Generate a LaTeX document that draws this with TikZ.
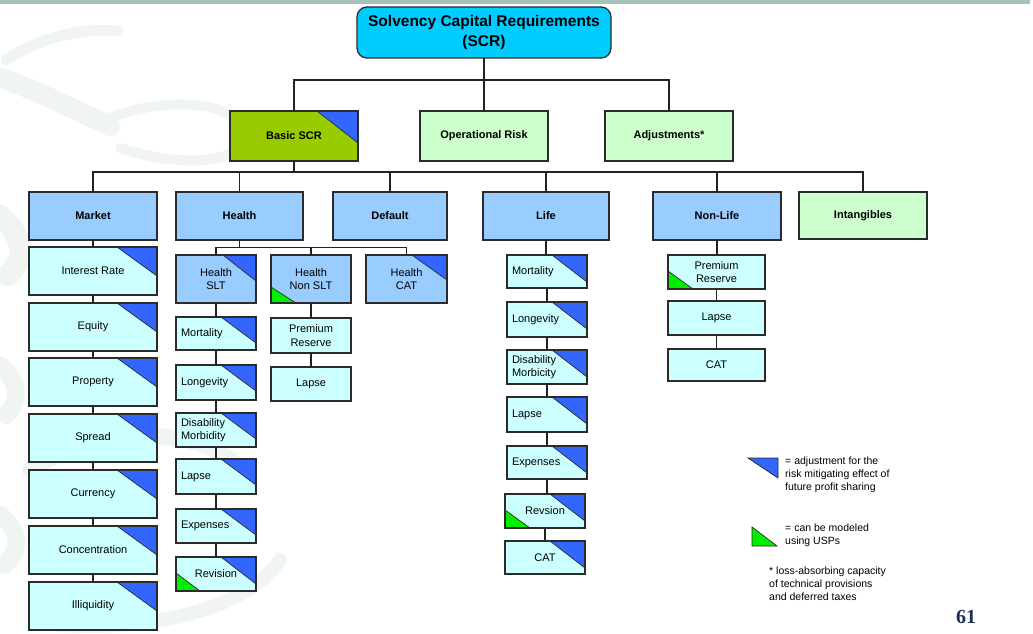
\documentclass[tikz,border=0pt]{standalone}
\usepackage{fontspec}
\setmainfont{Liberation Sans}
\newfontfamily\pagenumfont{Liberation Serif}

\definecolor{scrcyan}{HTML}{00CCFF}
\definecolor{basicolive}{HTML}{99CC00}
\definecolor{palegreen}{HTML}{CCFFCC}
\definecolor{groupblue}{HTML}{99CCFF}
\definecolor{leafcyan}{HTML}{CCFFFF}
\definecolor{adjblue}{HTML}{3366FF}
\definecolor{uspgreen}{HTML}{00EE00}
\definecolor{boxline}{HTML}{2B2B2B}
\definecolor{wirecol}{HTML}{222222}
\definecolor{swirlcol}{HTML}{F1F5F2}
\definecolor{bandcol}{HTML}{A9C2B9}
\definecolor{pagenum}{HTML}{1F2D5C}

% corner marks: blue = profit-sharing adjustment (top right), green = USPs (bottom left)
\newcommand\adjcorner[2]{%
  \filldraw[fill=adjblue, draw=boxline, line width=0.7pt]
    (path picture bounding box.north east) -- ++(-#1pt,0pt) -- ++(#1pt,-#2pt) -- cycle;}
\newcommand\uspcorner[2]{%
  \filldraw[fill=uspgreen, draw=boxline, line width=0.7pt]
    (path picture bounding box.south west) -- ++(0pt,#2pt) -- ++(#1pt,-#2pt) -- cycle;}

\tikzset{
  box/.style={draw=boxline, line width=1.3pt, inner sep=0pt, outer sep=0pt,
    anchor=north west, align=center, font=\fontsize{11}{13.5}\selectfont},
  sz/.style 2 args={minimum width=#1pt, minimum height=#2pt},
  boldlbl/.style={font=\bfseries\fontsize{11}{13.5}\selectfont},
  riskgroup/.style={box, fill=groupblue, boldlbl},
  toprisk/.style={box, fill=palegreen, boldlbl},
  subgroup/.style={box, fill=groupblue},
  leaf/.style={box, fill=leafcyan},
  leftleaf/.style={leaf, inner xsep=5pt, text width=70pt, align=left},
  adj/.style 2 args={path picture={\adjcorner{#1}{#2}}},
  usp/.style 2 args={path picture={\uspcorner{#1}{#2}}},
  adjusp/.style n args={4}{path picture={\adjcorner{#1}{#2}\uspcorner{#3}{#4}}},
  wire/.style={draw=wirecol, line width=1.3pt},
  legendtxt/.style={anchor=north west, inner sep=0pt, align=left,
    font=\fontsize{10.5}{13}\selectfont},
}

\begin{document}
\begin{tikzpicture}[x=1pt, y=-1pt]
\useasboundingbox (0,0) rectangle (1033,634);
\fill[white] (0,0) rectangle (1033,634);

% faint watermark swirl
\begin{scope}[draw=swirlcol, line cap=round, line join=round]
  \draw[line width=11pt] (118,31) .. controls (80,27) and (35,40) .. (6,60);
  \draw[line width=20pt] (2,78) .. controls (40,92) and (75,110) .. (110,126);
  \draw[line width=10pt] (100,122) .. controls (150,98) and (235,96) .. (242,132)
        .. controls (248,165) and (180,168) .. (120,148);
  \draw[line width=22pt] (0,215) .. controls (20,235) and (30,255) .. (8,275);
  \draw[line width=18pt] (0,365) .. controls (18,380) and (22,400) .. (6,415);
  \draw[line width=16pt] (240,470) .. controls (200,420) and (90,430) .. (30,470);
  \draw[line width=18pt] (0,515) .. controls (20,530) and (22,550) .. (4,565);
  \draw[line width=14pt] (280,560) .. controls (240,615) and (140,630) .. (60,625);
\end{scope}

% slide header band
\fill[bandcol] (0,0) rectangle (1030,4);

% top level
\node[box, fill=scrcyan, rounded corners=10pt, sz={254}{51},
      font=\bfseries\fontsize{15.5}{20}\selectfont] (scr) at (357,7)
      {Solvency Capital Requirements\\(SCR)};

\node[box, fill=basicolive, boldlbl, sz={128}{50}, adj={41}{32}] (basic) at (230,111) {Basic SCR};
\node[toprisk, sz={128}{50}] (op)  at (420,111) {Operational Risk};
\node[toprisk, sz={128}{50}] (adjm) at (605,111) {Adjustments*};

% risk modules
\node[riskgroup, sz={128}{48}] (market)  at (29,192)  {Market};
\node[riskgroup, sz={127}{48}] (health)  at (176,192) {Health};
\node[riskgroup, sz={114}{48}] (default) at (333,192) {Default};
\node[riskgroup, sz={126}{48}] (life)    at (483,192) {Life};
\node[riskgroup, sz={128}{48}] (nonlife) at (653,192) {Non-Life};
\node[toprisk,   sz={128}{47}] (intang)  at (799,192) {Intangibles};

% market sub-modules
\node[leaf, sz={128}{48}, adj={40}{29}] (ir)     at (29,247) {Interest Rate};
\node[leaf, sz={128}{48}, adj={40}{29}] (eq)     at (29,303) {Equity};
\node[leaf, sz={128}{48}, adj={40}{29}] (prop)   at (29,358) {Property};
\node[leaf, sz={128}{48}, adj={40}{29}] (spread) at (29,414) {Spread};
\node[leaf, sz={128}{48}, adj={40}{29}] (cur)    at (29,470) {Currency};
\node[leaf, sz={128}{48}, adj={40}{29}] (conc)   at (29,526) {Concentration};
\node[leaf, sz={128}{48}, adj={40}{29}] (illiq)  at (29,582) {Illiquidity};

% health sub-modules
\node[subgroup, sz={80}{48}, adj={33}{26}] (slt)  at (176,255) {Health\\SLT};
\node[subgroup, sz={80}{48}, usp={25}{16}] (nslt) at (271,255) {Health\\Non SLT};
\node[subgroup, sz={81}{48}, adj={35}{25}] (hcat) at (366,255) {Health\\CAT};

\node[leftleaf, sz={80}{33}, adj={35}{26}] (hmort)  at (176,317) {Mortality};
\node[leftleaf, sz={80}{35}, adj={35}{26}] (hlong)  at (176,365) {Longevity};
\node[leftleaf, sz={80}{34}, adj={35}{26}] (hdis)   at (176,413) {Disability\\Morbidity};
\node[leftleaf, sz={80}{35}, adj={35}{26}] (hlapse) at (176,459) {Lapse};
\node[leftleaf, sz={80}{34}, adj={35}{26}] (hexp)   at (176,509) {Expenses};
\node[leaf, sz={80}{34}, adjusp={35}{27}{24}{18}] (hrev) at (176,557) {Revision};

\node[leaf, sz={80}{35}] (hprem)   at (271,318) {Premium\\Reserve};
\node[leaf, sz={80}{34}] (hnlapse) at (271,367) {Lapse};

% life sub-modules
\node[leftleaf, sz={80}{33}, adj={35}{27}] (lmort)  at (507,255) {Mortality};
\node[leftleaf, sz={80}{35}, adj={35}{27}] (llong)  at (507,302) {Longevity};
\node[leftleaf, sz={80}{34}, adj={35}{27}] (ldis)   at (507,350) {Disability\\Morbicity};
\node[leftleaf, sz={80}{35}, adj={35}{27}] (llapse) at (507,397) {Lapse};
\node[leftleaf, sz={80}{33}, adj={35}{27}] (lexp)   at (507,446) {Expenses};
\node[leaf, sz={80}{34}, adjusp={35}{27}{25}{18}] (lrev) at (505,494) {Revsion};
\node[leaf, sz={80}{33}, adj={35}{27}] (lcat)   at (505,541) {CAT};

% non-life sub-modules
\node[leaf, sz={97}{34}, usp={25}{18}] (nprem)  at (668,255) {Premium\\Reserve};
\node[leaf, sz={97}{34}] (nlapse) at (668,301) {Lapse};
\node[leaf, sz={97}{32}] (ncat)   at (668,349) {CAT};

% connectors
\coordinate (busA) at (484,80);
\coordinate (busB) at (294,172);
\coordinate (busC) at (239.5,247.5);

\draw[wire] (scr.south) -- (busA);
\foreach \n in {basic, op, adjm} \draw[wire] (busA) -| (\n.north);

\draw[wire] (basic.south) -- (busB);
\foreach \n in {market, health, default, life, nonlife, intang} \draw[wire] (busB) -| (\n.north);

\draw[wire] (health.south) -- (busC);
\foreach \n in {slt, nslt, hcat} \draw[wire] (busC) -| (\n.north);

\foreach \a/\b in {market/ir, ir/eq, eq/prop, prop/spread, spread/cur, cur/conc, conc/illiq,
                   slt/hmort, hmort/hlong, hlong/hdis, hdis/hlapse, hlapse/hexp, hexp/hrev,
                   nslt/hprem, hprem/hnlapse,
                   life/lmort, lmort/llong, llong/ldis, ldis/llapse, llapse/lexp, lexp/lrev, lrev/lcat,
                   nonlife/nprem, nprem/nlapse, nlapse/ncat}
  \draw[wire] (\a.south) -- (\a.south |- \b.north);

% legend
\filldraw[fill=adjblue, draw=boxline, line width=0.7pt] (748,458) -- (778,458) -- (778,478) -- cycle;
\node[legendtxt] (lgadj) at (785,457) {= adjustment for the\\risk mitigating effect of\\future profit sharing};
\filldraw[fill=uspgreen, draw=boxline, line width=0.7pt] (752,527) -- (752,546) -- (777,546) -- cycle;
\node[legendtxt] (lgusp) at (785,524) {= can be modeled\\using USPs};
\node[legendtxt] (lgnote) at (769,567) {* loss-absorbing capacity\\of technical provisions\\and deferred taxes};

% page number
\node[inner sep=0pt, text=pagenum, font=\pagenumfont\bfseries\fontsize{20}{20}\selectfont] (pgno) at (966,617) {61};
\end{tikzpicture}
\end{document}
